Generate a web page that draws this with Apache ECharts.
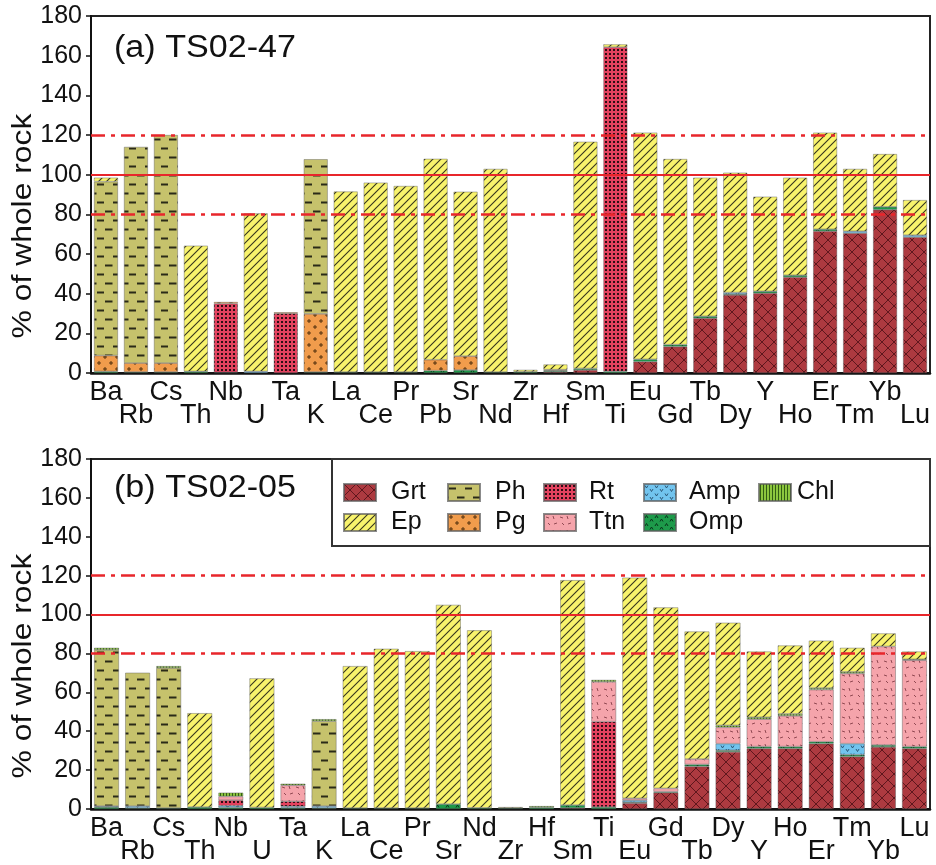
<!DOCTYPE html>
<html>
<head>
<meta charset="utf-8">
<script src="https://cdn.jsdelivr.net/npm/echarts@6/dist/echarts.min.js"></script>
<style>
  html, body { margin: 0; padding: 0; background: #fff; }
  #chart { width: 936px; height: 865px; }
</style>
</head>
<body>
<div id="chart"></div>
<script>
// Element order along the x axis for each sample
const elementsA = ['Ba','Rb','Cs','Th','Nb','U','Ta','K','La','Ce','Pr','Pb','Sr','Nd','Zr','Hf','Sm','Ti','Eu','Gd','Tb','Dy','Y','Ho','Er','Tm','Yb','Lu'];
const elementsB = ['Ba','Rb','Cs','Th','Nb','U','Ta','K','La','Ce','Pr','Sr','Nd','Zr','Hf','Sm','Ti','Eu','Gd','Tb','Dy','Y','Ho','Er','Tm','Yb','Lu'];

// Mineral contributions (% of whole rock), stacked bottom to top
// (a) TS02-47
const grtA = [0,0,0,0,0,0,0,0,0,0,0,0,0,0,0,0.6,1.5,0,5.7,13.3,27.6,39.3,40.2,48.3,71.5,70.5,82.3,68.5];
const ompA = [0.8,0.5,0.5,0.8,0.3,0,0,0.5,0.5,0.5,0.5,1.2,1.5,0.5,0.6,0.7,0.8,0.8,1.2,1.0,1.0,0.5,1.0,1.0,1.0,0,1.5,0];
const ampA = [0,0,0,0,0,0.8,0,0,0,0,0,0,0,0,0,0,0,0,0,0,0,0.8,0,0,0,1.0,0,1.0];
const rtA  = [0,0,0,0,34.7,0,30.0,0,0,0,0,0,0,0,0,0,0,163.5,0,0,0,0,0,0,0,0,0,0];
const ttnA = [0,0,0,0,0,0,0,0,0,0,0,0,0,0,0,0,0,0,0,0,0,0,0,0,0,0,0,0];
const pgA  = [8.0,4.5,4.5,0,0.8,0,0.6,29.3,0,0,0,5.5,7.0,0,0,0.4,0,0,0,0,0,0,0,0,0,0,0,0];
const phA  = [87.7,109.0,115.0,0,0,0,0,78.0,0,0,0,0,0,0,0,0,0,0,0,0,0,0,0,0,0,0,0,0];
const chlA = [0,0,0,0,0,0,0,0,0,0,0,0,0,0,0,0,0,0,0,0,0,0,0,0,0,0,0,0];
const epA  = [2.0,0,0,63.4,0,79.7,0,0,91.0,95.5,93.8,101.3,82.9,102.4,1.0,2.6,114.3,1.4,114.3,93.6,69.9,60.4,47.7,49.2,48.7,31.4,26.6,17.7];

// (b) TS02-05
const grtB = [0,0,0,0,0,0,0,0,0,0,0,0,0,0,0,0.5,0,3.0,8.4,21.9,29.4,31.1,31.1,33.6,26.9,31.9,31.1];
const ompB = [1.0,0.5,0.5,1.0,0.8,0.8,0.6,0.5,0.5,0.5,0.5,2.5,0.6,0.5,0.8,1.5,1.0,0.5,0.5,1.0,0.8,1.0,1.0,1.0,1.0,1.0,1.0];
const ampB = [0.5,1.0,0,0,0.9,0,0.8,1.0,0,0,0,0,0,0,0,0,0,1.0,0,0,3.4,0,0,0,5.7,0,0];
const rtB  = [0,0,0,0,2.8,0,2.5,0,0,0,0,0,0,0,0,0,43.9,0,0,0,0,0,0,0,0,0,0];
const ttnB = [0,0,0,0,2.0,0,8.3,0,0,0,0,0,0,0,0,0,20.5,1.0,1.7,2.8,8.4,14.1,15.8,26.8,36.1,50.7,44.4];
const pgB  = [0,0,0,0,0,0,0,0,0,0,0,0,0,0,0,0,0,0,0,0,0,0,0,0,0,0,0];
const phB  = [80.3,68.6,72.0,0,0,0,0,43.7,0,0,0,0,0,0,0,0,0,0,0,0,0,0,0,0,0,0,0];
const chlB = [1.1,0,1.0,0,1.9,0,0.8,1.0,0,0,0,0,0,0,0.7,0,1.0,0,0,0,1.0,1.0,1.0,0.8,0.8,0,0.5];
const epB  = [0,0,0,48.3,0,66.4,0,0,73.0,81.9,80.7,102.5,91.3,0.5,0,115.7,0,113.5,93.1,65.6,52.8,33.8,35.2,24.4,12.4,6.7,4.0];

const minerals = ['Grt','Omp','Amp','Rt','Ttn','Pg','Ph','Chl','Ep'];
const seriesA = [grtA, ompA, ampA, rtA, ttnA, pgA, phA, chlA, epA];
const seriesB = [grtB, ompB, ampB, rtB, ttnB, pgB, phB, chlB, epB];

// Reference levels: 100 % (solid) and +/-20 % (dash-dot)
const refLevels = [100, 120, 80];

const FONT = "'Liberation Sans', Arial, sans-serif";

// ---- fill patterns drawn on small canvases ----
function pattern(w, h, bg, draw) {
  const c = document.createElement('canvas');
  c.width = w; c.height = h;
  const g = c.getContext('2d');
  g.fillStyle = bg; g.fillRect(0, 0, w, h);
  draw(g, w, h);
  return { image: c, repeat: 'repeat' };
}
function line(g, pts, color, lw) {
  g.strokeStyle = color; g.lineWidth = lw; g.beginPath();
  g.moveTo(pts[0], pts[1]);
  for (let i = 2; i < pts.length; i += 2) g.lineTo(pts[i], pts[i + 1]);
  g.stroke();
}
const fills = {
  Grt: pattern(12, 12, '#ad3a40', (g) => {
    line(g, [0, 0, 12, 12], 'rgba(70,12,18,0.75)', 1);
    line(g, [12, 0, 0, 12], 'rgba(70,12,18,0.75)', 1);
  }),
  Ep: pattern(8, 8, '#f8f36c', (g) => {
    const c = 'rgba(30,30,20,0.9)';
    line(g, [-1, 9, 9, -1], c, 1.1);
    line(g, [-1, 1, 1, -1], c, 1.1);
    line(g, [7, 9, 9, 7], c, 1.1);
  }),
  Ph: pattern(16, 18, '#c6c26c', (g) => {
    line(g, [1, 4.5, 8, 4.5], '#2a2a18', 2);
    line(g, [9, 13.5, 16, 13.5], '#2a2a18', 2);
    line(g, [0, 13.5, 0.5, 13.5], '#2a2a18', 2);
  }),
  Rt: pattern(4, 4, '#e4425f', (g) => {
    g.fillStyle = 'rgba(0,0,0,0.8)'; g.fillRect(1, 1, 2, 2);
  }),
  Pg: pattern(12, 12, '#f19c4c', (g) => {
    const c = 'rgba(70,40,10,0.9)';
    line(g, [1, 3, 5, 3], c, 1); line(g, [3, 1, 3, 5], c, 1);
    line(g, [7, 9, 11, 9], c, 1); line(g, [9, 7, 9, 11], c, 1);
  }),
  Amp: pattern(10, 8, '#72c4ee', (g) => {
    const c = 'rgba(40,80,110,0.9)';
    line(g, [1, 1.5, 2.5, 4, 4, 1.5], c, 1);
    line(g, [6, 5, 7.5, 7.5, 9, 5], c, 1);
  }),
  Ttn: pattern(14, 14, '#f5a4ab', (g) => {
    const c = 'rgba(120,50,60,0.8)';
    line(g, [2, 3, 5, 4], c, 1);
    line(g, [9, 2, 10, 5], c, 1);
    line(g, [4, 9, 6, 11], c, 1);
    line(g, [10, 10, 13, 9], c, 1);
  }),
  Omp: pattern(10, 8, '#1d9a4a', (g) => {
    const c = 'rgba(8,50,25,0.95)';
    line(g, [1, 4, 2.5, 1.5, 4, 4], c, 1);
    line(g, [6, 7.5, 7.5, 5, 9, 7.5], c, 1);
  }),
  Chl: pattern(3, 3, '#8cc63e', (g) => {
    g.fillStyle = 'rgba(40,80,15,0.9)'; g.fillRect(1, 0, 1, 3);
  })
};

// Alternate element labels between two rows
function catLabel(value, idx) {
  return idx % 2 === 0 ? value : '\n' + value;
}

function xAxisFor(cats, gridIndex) {
  return {
    type: 'category', gridIndex: gridIndex, data: cats,
    axisLine: { show: true, lineStyle: { color: '#111', width: 2.5 } },
    axisTick: { show: false },
    axisLabel: {
      interval: 0, margin: 8, color: '#111', fontFamily: FONT, fontSize: 27,
      lineHeight: 23, formatter: catLabel
    }
  };
}
function yAxisFor(gridIndex) {
  return {
    type: 'value', gridIndex: gridIndex, min: 0, max: 180, interval: 20,
    axisLine: { show: true, lineStyle: { color: '#111', width: 2 } },
    axisTick: { show: true, inside: false, length: 5, lineStyle: { color: '#111', width: 1.5 } },
    axisLabel: { margin: 9, color: '#111', fontFamily: FONT, fontSize: 25 },
    splitLine: { show: false }
  };
}

function refLines() {
  return {
    silent: true, symbol: ['none', 'none'], label: { show: false }, z: 5,
    data: refLevels.map(v => ({
      yAxis: v,
      lineStyle: v === 100
        ? { color: '#e8262b', width: 2, type: 'solid' }
        : { color: '#e8262b', width: 2.6, type: [14, 6, 4, 6] }
    }))
  };
}

function buildSeries(valueSets, axisIndex, stackName) {
  return minerals.map((name, k) => {
    const s = {
      name: name, type: 'bar', stack: stackName,
      xAxisIndex: axisIndex, yAxisIndex: axisIndex,
      barWidth: '80%',
      data: valueSets[k].map(v => (v > 0 ? v : '-')),
      itemStyle: { color: fills[name], borderColor: 'rgba(90,90,90,0.7)', borderWidth: 0.6 },
      emphasis: { disabled: true }
    };
    if (name === 'Ep') s.markLine = refLines();
    return s;
  });
}

const legendCols = [
  { items: ['Grt', 'Ep'], left: 343, pad: 10 },
  { items: ['Ph', 'Pg'], left: 447, pad: 10 },
  { items: ['Rt', 'Ttn'], left: 543, pad: 8 },
  { items: ['Amp', 'Omp'], left: 643, pad: 8 },
  { items: ['Chl'], left: 758, pad: 1 }
];

const chart = echarts.init(document.getElementById('chart'), null, { renderer: 'canvas' });
chart.setOption({
  animation: false,
  backgroundColor: '#fff',
  grid: [
    { left: 91, right: 6, top: 16, height: 357, show: true, borderColor: '#222', borderWidth: 2 },
    { left: 91, right: 6, top: 459, height: 356, show: true, borderColor: '#222', borderWidth: 2 }
  ],
  xAxis: [xAxisFor(elementsA, 0), xAxisFor(elementsB, 1)],
  yAxis: [yAxisFor(0), yAxisFor(1)],
  legend: legendCols.map(col => ({
    data: col.items, orient: 'vertical', left: col.left, top: 480, padding: 0,
    itemWidth: 32, itemHeight: 17, itemGap: 5, z: 10, selectedMode: false,
    icon: 'rect',
    textStyle: { fontFamily: FONT, fontSize: 25, lineHeight: 25, color: '#111', padding: [0, 0, 0, col.pad] }
  })),
  graphic: [
    { type: 'rect', z: 3, shape: { x: 332, y: 459, width: 598, height: 87 },
      style: { fill: '#fff', stroke: '#333', lineWidth: 2 } },
    { type: 'text', z: 4, x: 114, y: 48, scaleX: 1.1,
      style: { text: '(a) TS02-47', fontFamily: FONT, fontSize: 31, fill: '#111', textAlign: 'left', textVerticalAlign: 'middle' } },
    { type: 'text', z: 4, x: 114, y: 488, scaleX: 1.1,
      style: { text: '(b) TS02-05', fontFamily: FONT, fontSize: 31, fill: '#111', textAlign: 'left', textVerticalAlign: 'middle' } },
    { type: 'text', z: 4, x: 24, y: 226, rotation: Math.PI / 2, scaleX: 1.18,
      style: { text: '% of whole rock', fontFamily: FONT, fontSize: 27, fill: '#111', textAlign: 'center', textVerticalAlign: 'middle' } },
    { type: 'text', z: 4, x: 24, y: 666, rotation: Math.PI / 2, scaleX: 1.18,
      style: { text: '% of whole rock', fontFamily: FONT, fontSize: 27, fill: '#111', textAlign: 'center', textVerticalAlign: 'middle' } }
  ],
  series: buildSeries(seriesA, 0, 'a').concat(buildSeries(seriesB, 1, 'b'))
});
</script>
</body>
</html>
